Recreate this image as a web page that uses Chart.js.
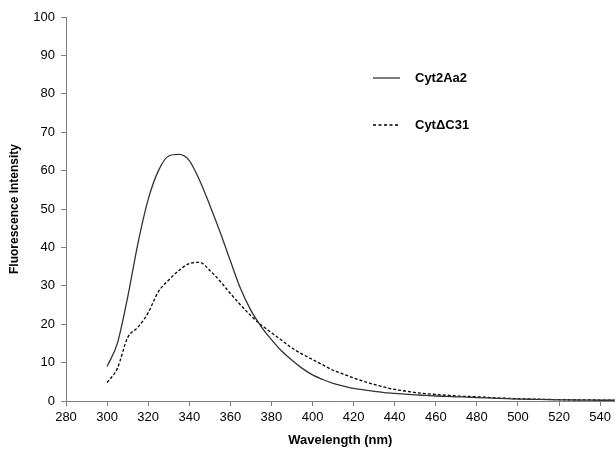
<!DOCTYPE html>
<html>
<head>
<meta charset="utf-8">
<script src="https://cdn.jsdelivr.net/npm/chart.js@4/dist/chart.umd.min.js"></script>
<style>
  html, body { margin: 0; padding: 0; background: #fff; }
  #wrap { width: 615px; height: 452px; }
</style>
</head>
<body>
<div id="wrap"><canvas id="c" width="615" height="452"></canvas></div>
<script>
// wavelength (nm), 5 nm steps
const wavelengths = [300, 305, 310, 315, 320, 325, 330, 335, 340, 345,
  350, 355, 360, 365, 370, 375, 380, 385, 390, 395,
  400, 405, 410, 415, 420, 425, 430, 435, 440, 445,
  450, 455, 460, 465, 470, 475, 480, 485, 490, 495,
  500, 505, 510, 515, 520, 525, 530, 535, 540, 545, 550];

const cyt2Aa2 = [9, 15, 27, 41, 52.5, 60, 63.8, 64.2, 62.6, 57.5,
  51, 44, 36.5, 29.2, 23.6, 19.4, 16, 13, 10.6, 8.5,
  6.8, 5.6, 4.6, 3.9, 3.3, 2.9, 2.5, 2.2, 2.0, 1.8,
  1.6, 1.45, 1.3, 1.2, 1.1, 1.0, 0.9, 0.8, 0.7, 0.6,
  0.5, 0.45, 0.4, 0.35, 0.3, 0.28, 0.25, 0.22, 0.2, 0.2, 0.2];

const cytDC31 = [4.8, 8.5, 16.5, 19.2, 23, 28.5, 31.5, 34, 35.8, 36.1,
  34, 31.2, 28, 25, 22.2, 19.8, 17.8, 15.8, 13.8, 12.2,
  10.8, 9.4, 8.0, 7.0, 6.0, 5.1, 4.3, 3.6, 3.0, 2.6,
  2.2, 1.9, 1.7, 1.5, 1.3, 1.2, 1.1, 0.95, 0.8, 0.7,
  0.6, 0.52, 0.45, 0.4, 0.35, 0.32, 0.3, 0.27, 0.25, 0.22, 0.2];

const xTicks = [280, 300, 320, 340, 360, 380, 400, 420, 440, 460, 480, 500, 520, 540];

const seriesNames = ["Cyt2Aa2", "Cyt\u0394C31"];

const FONT = "'Liberation Sans', Arial, sans-serif";

const legendPlugin = {
  id: "insideLegend",
  afterDraw(chart) {
    const ctx = chart.ctx;
    const items = [
      { y: 78, dash: [], color: "#333" },
      { y: 125, dash: [3, 2.5], color: "#000" },
    ];
    ctx.save();
    items.forEach((it, i) => {
      ctx.beginPath();
      ctx.setLineDash(it.dash);
      ctx.strokeStyle = it.color;
      ctx.lineWidth = 1.3;
      ctx.moveTo(373, it.y);
      ctx.lineTo(400, it.y);
      ctx.stroke();
      ctx.setLineDash([]);
      ctx.fillStyle = "#000";
      ctx.font = "bold 13px " + FONT;
      ctx.textBaseline = "middle";
      ctx.fillText(seriesNames[i], 415, it.y);
    });
    ctx.restore();
  }
};

new Chart(document.getElementById("c"), {
  type: "line",
  data: {
    labels: wavelengths,
    datasets: [
      {
        label: seriesNames[0],
        data: wavelengths.map((w, i) => ({ x: w, y: cyt2Aa2[i] })),
        borderColor: "#333",
        borderWidth: 1.3,
        pointRadius: 0,
        cubicInterpolationMode: "monotone",
        fill: false,
      },
      {
        label: seriesNames[1],
        data: wavelengths.map((w, i) => ({ x: w, y: cytDC31[i] })),
        borderColor: "#000",
        borderWidth: 1.3,
        borderDash: [3, 2],
        pointRadius: 0,
        cubicInterpolationMode: "monotone",
        fill: false,
      },
    ],
  },
  options: {
    responsive: false,
    animation: false,
    layout: { padding: { top: 17, right: 0, left: 0, bottom: 0 } },
    plugins: {
      legend: { display: false },
      tooltip: { enabled: false },
    },
    scales: {
      x: {
        type: "linear",
        min: 280,
        max: 547,
        afterBuildTicks: s => { s.ticks = xTicks.map(v => ({ value: v })); },
        afterFit: s => { s.height = 51; },
        ticks: { color: "#000", font: { family: FONT, size: 13 }, padding: 4, maxRotation: 0, autoSkip: false },
        grid: { drawOnChartArea: false, tickLength: 5, color: "#808080" },
        border: { color: "#808080", width: 1 },
        title: { display: true, text: "Wavelength (nm)", color: "#000", font: { family: FONT, size: 13, weight: "bold" }, padding: { top: 6 } },
      },
      y: {
        min: 0,
        max: 100,
        afterFit: s => { s.width = 66; },
        ticks: { stepSize: 10, color: "#000", font: { family: FONT, size: 13 }, padding: 6 },
        grid: { drawOnChartArea: false, tickLength: 5, color: "#808080" },
        border: { color: "#808080", width: 1 },
        title: { display: true, text: "Fluorescence Intensity", color: "#000", font: { family: FONT, size: 12, weight: "bold" }, padding: { top: 7, bottom: 4 } },
      },
    },
  },
  plugins: [legendPlugin],
});
</script>
</body>
</html>
